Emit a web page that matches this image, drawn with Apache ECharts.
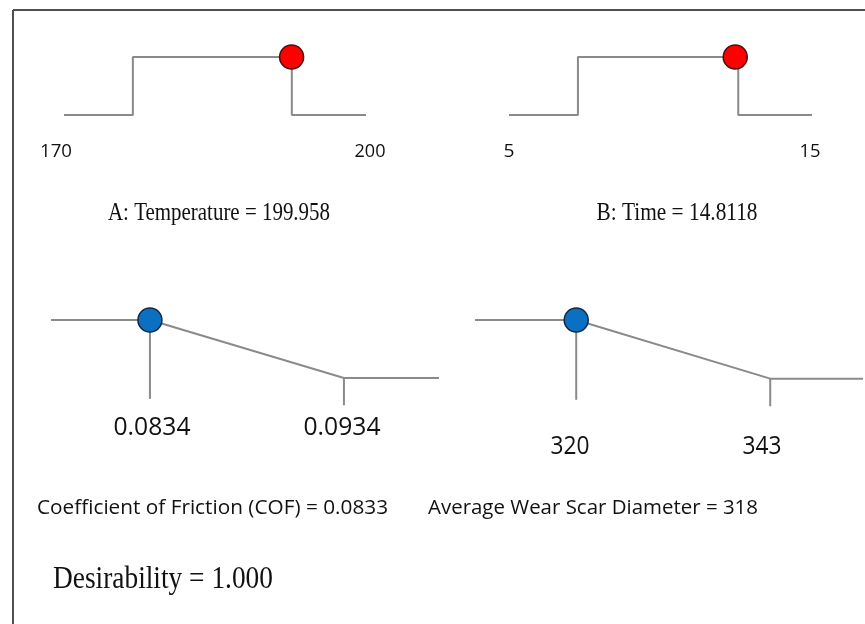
<!DOCTYPE html>
<html>
<head>
<meta charset="utf-8">
<title>Desirability ramps</title>
<script src="https://cdn.jsdelivr.net/npm/echarts@6/dist/echarts.min.js"></script>
<style>
  html, body { margin: 0; padding: 0; background: #ffffff; }
  #chart { width: 865px; height: 624px; }
</style>
</head>
<body>
<div id="chart"></div>
<script>
// ---- Optimisation result: factor and response settings ----
const factorNames = ['A: Temperature', 'B: Time'];
const factorLimits = [[170, 200], [5, 15]];
const factorSpan = [[157, 214], [0.7, 19.6]];          // extent of the flat tails
const factorSettings = [199.958, 14.8118];

const responseNames = ['Coefficient of Friction (COF)', 'Average Wear Scar Diameter'];
const responseLimits = [[0.0834, 0.0934], [320, 343]];
const responseSpan = [[0.0783, 0.0983], [308, 354]];
const responsePredictions = [0.0833, 318];

const desirability = 1.000;

// ---- Ramp shapes ----
// factors: "in range" goal, desirability 1 between the limits
function factorRamp(lim, span) {
  return [[span[0], 0], [lim[0], 0], [lim[0], 1], [lim[1], 1], [lim[1], 0], [span[1], 0]];
}
// responses: "minimize" goal, 1 below the low limit falling to 0 at the high limit
function responseRamp(lim, span) {
  return [[span[0], 1], [lim[0], 1], [lim[1], 0], [span[1], 0]];
}
function clamp(v, lim) { return Math.min(Math.max(v, lim[0]), lim[1]); }
function rampValue(v, lim) { return 1 - (clamp(v, lim) - lim[0]) / (lim[1] - lim[0]); }

const LINE = '#8a8a8a';
const INK = '#111111';
const SANS = '"Open Sans", "Liberation Sans", sans-serif';
const SERIF = '"Liberation Serif", "Times New Roman", serif';

// panel placement (pixels)
const panels = [
  { left: 64,  top: 57,  width: 302, height: 58, yMin: 0 },
  { left: 509, top: 57,  width: 303, height: 58, yMin: 0 },
  { left: 51,  top: 320, width: 388, height: 87, yMin: -0.5 },
  { left: 475, top: 320, width: 388, height: 88, yMin: -0.5 }
];

const grids = [], xAxes = [], yAxes = [], series = [];
panels.forEach((p, i) => {
  const span = i < 2 ? factorSpan[i] : responseSpan[i - 2];
  grids.push({ left: p.left, top: p.top, width: p.width, height: p.height, containLabel: false });
  xAxes.push({ type: 'value', gridIndex: i, min: span[0], max: span[1], show: false });
  yAxes.push({ type: 'value', gridIndex: i, min: p.yMin, max: 1, show: false });
});

function lineSeries(i, data, z) {
  return {
    type: 'line', xAxisIndex: i, yAxisIndex: i, data, showSymbol: false, symbol: 'none',
    lineStyle: { color: LINE, width: 2 }, silent: true, animation: false, z: z || 2
  };
}
function dotSeries(i, point, fill, edge) {
  return {
    type: 'scatter', xAxisIndex: i, yAxisIndex: i, data: [point],
    symbol: 'circle', symbolSize: 24,
    itemStyle: { color: fill, borderColor: edge, borderWidth: 1.5, opacity: 1 },
    silent: true, animation: false, z: 5
  };
}

// factor panels
factorLimits.forEach((lim, k) => {
  series.push(lineSeries(k, factorRamp(lim, factorSpan[k])));
  const x = factorSettings[k];
  series.push(dotSeries(k, [x, rampValue(x, [lim[0], lim[1]]) > 0 ? 1 : 0], '#ff0000', '#4a1010'));
});

// response panels
responseLimits.forEach((lim, k) => {
  const i = k + 2;
  series.push(lineSeries(i, responseRamp(lim, responseSpan[k])));
  const x = clamp(responsePredictions[k], lim);
  const d = rampValue(responsePredictions[k], lim);
  series.push(lineSeries(i, [[x, d], [x, -0.36]]));          // marker drop line
  series.push(lineSeries(i, [[lim[1], 0], [lim[1], -0.47]])); // high-limit tick
  series.push(dotSeries(i, [x, d], '#0b6fc2', '#16283f'));
});

// ---- Texts ----
const measureCtx = document.createElement('canvas').getContext('2d');
function fitText(text, cx, cy, size, family, width) {
  measureCtx.font = size + 'px ' + family;
  const w = measureCtx.measureText(text).width;
  const s = width ? width / w : 1;
  return {
    type: 'text', x: cx, y: cy, scaleX: s, silent: true, z: 10,
    style: {
      text, fontSize: size, fontFamily: family, fill: INK,
      align: 'center', verticalAlign: 'middle',
      textAlign: 'center', textVerticalAlign: 'middle'
    }
  };
}

const fmt = v => String(v);
const texts = [
  fitText(fmt(factorLimits[0][0]), 56, 152, 18, SANS, 32),
  fitText(fmt(factorLimits[0][1]), 370, 152, 18, SANS, 31),
  fitText(fmt(factorLimits[1][0]), 509, 152, 18, SANS, 11),
  fitText(fmt(factorLimits[1][1]), 810, 152, 18, SANS, 21),
  fitText(factorNames[0] + ' = ' + fmt(factorSettings[0]), 219, 213, 25, SERIF, 222),
  fitText(factorNames[1] + ' = ' + fmt(factorSettings[1]), 677, 213, 25, SERIF, 161),
  fitText(fmt(responseLimits[0][0]), 152, 428, 25, SANS, 77),
  fitText(fmt(responseLimits[0][1]), 342, 428, 25, SANS, 77),
  fitText(fmt(responseLimits[1][0]), 570, 447, 25, SANS, 39),
  fitText(fmt(responseLimits[1][1]), 762, 447, 25, SANS, 39),
  fitText(responseNames[0] + ' = ' + fmt(responsePredictions[0]), 212.5, 508, 20, SANS, 351),
  fitText(responseNames[1] + ' = ' + fmt(responsePredictions[1]), 593, 508, 20, SANS, 330),
  fitText('Desirability = ' + desirability.toFixed(3), 163, 580, 31, SERIF, 220)
];

// frame (top and left edges)
const frame = [
  { type: 'line', silent: true, shape: { x1: 13, y1: 10, x2: 865, y2: 10 }, style: { stroke: '#505050', lineWidth: 2 } },
  { type: 'line', silent: true, shape: { x1: 13, y1: 10, x2: 13, y2: 624 }, style: { stroke: '#505050', lineWidth: 2 } }
];

const chart = echarts.init(document.getElementById('chart'), null, { renderer: 'canvas' });
chart.setOption({
  backgroundColor: '#ffffff',
  animation: false,
  grid: grids,
  xAxis: xAxes,
  yAxis: yAxes,
  series: series,
  graphic: { elements: frame.concat(texts) }
});
</script>
</body>
</html>
